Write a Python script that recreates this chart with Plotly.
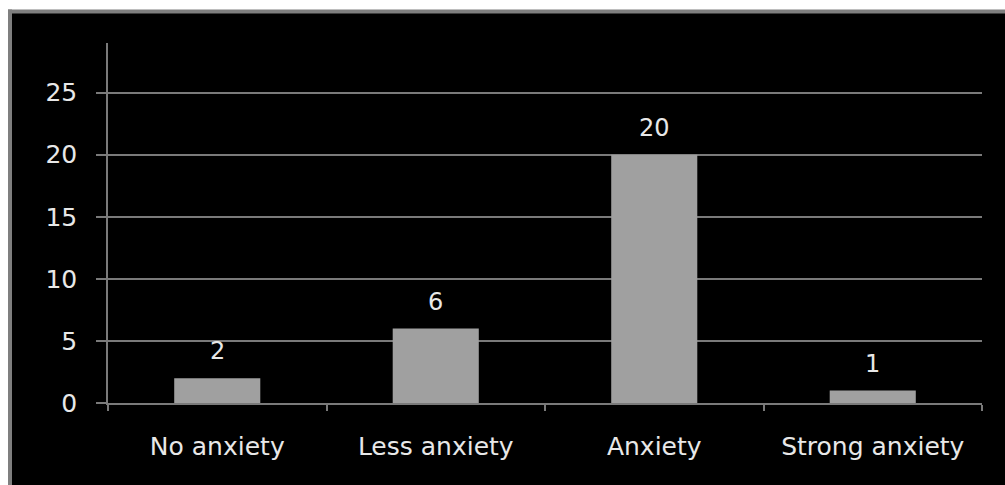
import plotly.graph_objects as go

categories = ["No anxiety", "Less anxiety", "Anxiety", "Strong anxiety"]
values = [2, 6, 20, 1]
y_ticks = [0, 5, 10, 15, 20, 25]

W, H = 1005, 485
L, R, T, B = 108, 23, 43, 82
pw, ph = W - L - R, H - T - B

def px_x(p):
    return (p - L) / pw

def px_y(p):
    return (H - B - p) / ph

txt_col = "#e8e8e8"
grid_col = "#7a7a7a"
font_family = "DejaVu Sans, sans-serif"

fig = go.Figure()
fig.add_trace(go.Bar(
    x=categories, y=values,
    marker=dict(color="#a0a0a0", line=dict(width=0)),
    width=0.394,
    hoverinfo="skip",
))

for c, v in zip(categories, values):
    fig.add_annotation(x=c, y=v, text=str(v), showarrow=False,
                       yanchor="bottom", yshift=11,
                       font=dict(size=24, color=txt_col, family=font_family))

# white outer margin (top and left) and grey frame of the black panel
fig.add_shape(type="rect", xref="paper", yref="paper",
              x0=px_x(-20), x1=px_x(1030), y0=px_y(10), y1=px_y(-20),
              fillcolor="white", line=dict(width=0), layer="below")
fig.add_shape(type="rect", xref="paper", yref="paper",
              x0=px_x(-20), x1=px_x(8), y0=px_y(510), y1=px_y(-20),
              fillcolor="white", line=dict(width=0), layer="below")
fig.add_shape(type="line", xref="paper", yref="paper",
              x0=px_x(8), x1=px_x(1030), y0=px_y(11.5), y1=px_y(11.5),
              line=dict(color="#7f7f7f", width=4), layer="below")
fig.add_shape(type="line", xref="paper", yref="paper",
              x0=px_x(10), x1=px_x(10), y0=px_y(9.5), y1=px_y(510),
              line=dict(color="#7f7f7f", width=4), layer="below")

fig.update_layout(
    width=W, height=H,
    margin=dict(l=L, r=R, t=T, b=B, pad=0),
    paper_bgcolor="black",
    plot_bgcolor="rgba(0,0,0,0)",
    showlegend=False,
    font=dict(family=font_family, color=txt_col),
    xaxis=dict(
        type="category",
        showgrid=False,
        showline=True, linecolor=grid_col, linewidth=1.5,
        ticks="outside", tickson="boundaries", ticklen=6, tickcolor=grid_col, tickwidth=1.5,
        tickfont=dict(size=25, color=txt_col, family=font_family),
        ticklabelstandoff=20,
        zeroline=False,
    ),
    yaxis=dict(
        range=[0, 29],
        tickvals=y_ticks,
        showgrid=True, gridcolor=grid_col, gridwidth=1.5,
        showline=True, linecolor=grid_col, linewidth=1.5,
        ticks="outside", ticklen=10, tickcolor=grid_col, tickwidth=1.5,
        tickfont=dict(size=25, color=txt_col, family=font_family),
        ticklabelstandoff=14,
        zeroline=False,
    ),
)

fig.write_html("out.html")
